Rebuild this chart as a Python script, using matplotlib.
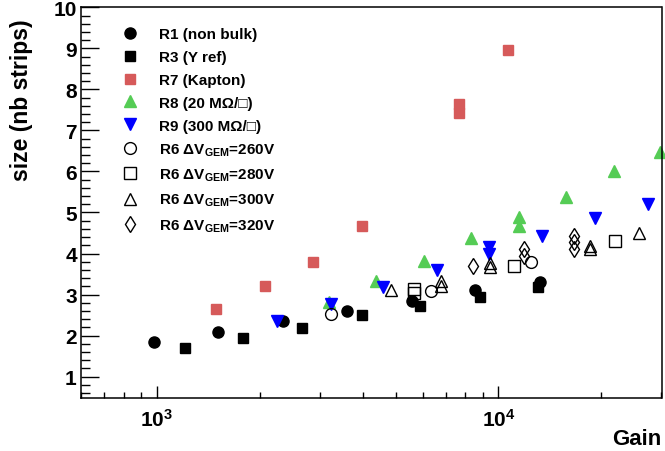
import matplotlib
matplotlib.use('Agg')
import matplotlib.pyplot as plt
from matplotlib.ticker import LogLocator, NullFormatter, FixedLocator, FixedFormatter, MultipleLocator

# ---------------- data ----------------
r1_gain = [982, 1509, 2338, 3614, 5579, 8546, 13250]
r1_size = [1.84, 2.10, 2.36, 2.61, 2.85, 3.11, 3.31]

r3_gain = [1208, 1793, 2668, 3981, 5900, 8800, 13010]
r3_size = [1.70, 1.93, 2.18, 2.50, 2.71, 2.95, 3.18]

r7_gain = [1491, 2075, 2873, 3990, 7687, 7687, 10654]
r7_size = [2.65, 3.22, 3.79, 4.66, 7.64, 7.42, 8.96]

r8_gain = [3201, 4385, 6040, 8318, 11460, 11460, 15790, 21720, 29750]
r8_size = [2.81, 3.34, 3.81, 4.38, 4.88, 4.66, 5.37, 6.02, 6.47]

r9_gain = [2245, 3237, 4606, 6595, 9393, 9393, 13450, 19190, 27380]
r9_size = [2.36, 2.77, 3.18, 3.60, 4.15, 3.99, 4.43, 4.86, 5.21]

r6_260_gain = [3237, 6353, 12440]
r6_260_size = [2.53, 3.08, 3.79]

r6_280_gain = [5666, 5666, 11140, 21960]
r6_280_size = [3.14, 3.04, 3.70, 4.31]

r6_300_gain = [4852, 6784, 6784, 9456, 9456, 18470, 18470, 25700]
r6_300_size = [3.12, 3.33, 3.21, 3.77, 3.67, 4.18, 4.11, 4.50]

r6_320_gain = [8450, 11840, 11840, 16690, 16690, 16690]
r6_320_size = [3.70, 4.12, 3.94, 4.43, 4.27, 4.11]

labels = ["R1 (non bulk)", "R3 (Y ref)", "R7 (Kapton)",
          "R8 (20 M\u03a9/\u25a1)", "R9 (300 M\u03a9/\u25a1)",
          r"R6 $\Delta$V$_{\mathrm{GEM}}$=260V", r"R6 $\Delta$V$_{\mathrm{GEM}}$=280V",
          r"R6 $\Delta$V$_{\mathrm{GEM}}$=300V", r"R6 $\Delta$V$_{\mathrm{GEM}}$=320V"]

xlim = (600, 30000)
ylim = (0.48, 10)

# ---------------- style ----------------
plt.rcParams['font.family'] = ['Liberation Sans', 'DejaVu Sans']
plt.rcParams['font.weight'] = 'bold'
plt.rcParams['mathtext.fontset'] = 'custom'
plt.rcParams['mathtext.rm'] = 'Liberation Sans:bold'
plt.rcParams['mathtext.it'] = 'Liberation Sans:bold'
plt.rcParams['mathtext.bf'] = 'Liberation Sans:bold'
plt.rcParams['mathtext.sf'] = 'Liberation Sans:bold'

RED = '#d65a5a'
GREEN = '#55cc55'
BLUE = '#0000ff'

fig = plt.figure(figsize=(6.65, 4.52), dpi=100)
ax = fig.add_axes([81 / 665, 1 - 399 / 452, 580.5 / 665, 390.7 / 452])

common = dict(linestyle='none', clip_on=False)
ax.plot(r1_gain, r1_size, marker='o', ms=8, color='black', mec='black', label=labels[0], **common)
ax.plot(r3_gain, r3_size, marker='s', ms=7.5, color='black', mec='black', label=labels[1], **common)
ax.plot(r7_gain, r7_size, marker='s', ms=7.5, color=RED, mec=RED, label=labels[2], **common)
ax.plot(r8_gain, r8_size, marker='^', ms=8.5, color=GREEN, mec=GREEN, label=labels[3], **common)
ax.plot(r9_gain, r9_size, marker='v', ms=8.5, color=BLUE, mec=BLUE, label=labels[4], **common)
ax.plot(r6_260_gain, r6_260_size, marker='o', ms=8.5, mfc='none', mec='black', mew=1.0, label=labels[5], **common)
ax.plot(r6_280_gain, r6_280_size, marker='s', ms=8, mfc='none', mec='black', mew=1.0, label=labels[6], **common)
ax.plot(r6_300_gain, r6_300_size, marker='^', ms=8.5, mfc='none', mec='black', mew=1.0, label=labels[7], **common)
ax.plot(r6_320_gain, r6_320_size, marker='d', ms=8, mfc='none', mec='black', mew=1.0, label=labels[8], **common)

ax.set_xscale('log')
ax.set_xlim(*xlim)
ax.set_ylim(*ylim)

ax.xaxis.set_major_locator(FixedLocator([1e3, 1e4]))
ax.xaxis.set_major_formatter(FixedFormatter([r'$\mathbf{10^{3}}$', r'$\mathbf{10^{4}}$']))
ax.xaxis.set_minor_locator(LogLocator(base=10, subs=range(2, 10), numticks=20))
ax.xaxis.set_minor_formatter(NullFormatter())

ax.yaxis.set_major_locator(MultipleLocator(1))
ax.yaxis.set_minor_locator(MultipleLocator(0.2))

ax.tick_params(axis='both', which='both', direction='in', top=False, right=False, colors='black')
ax.tick_params(axis='x', which='major', length=8.4, width=1.0, pad=7, labelsize=15)
ax.tick_params(axis='x', which='minor', length=4.2, width=1.0)
ax.tick_params(axis='y', which='major', length=13, width=1.0, pad=3, labelsize=15)
ax.tick_params(axis='y', which='minor', length=6.5, width=1.0)
for lab in ax.get_yticklabels():
    lab.set_fontweight('bold')

for sp in ax.spines.values():
    sp.set_linewidth(1.1)

fig.text(22 / 665, 1 - 19 / 452, 'size (nb strips)', rotation=90, ha='center', va='top',
         fontsize=16.5, fontweight='bold')
fig.text(661 / 665, 1 - 445 / 452, 'Gain', ha='right', va='baseline', fontsize=16, fontweight='bold')

leg = ax.legend(loc='upper left', bbox_to_anchor=(122.4 / 665, 1 - 28.2 / 452),
                bbox_transform=fig.transFigure, frameon=False, fontsize=11,
                handlelength=1.0, handletextpad=1.4, labelspacing=0.58,
                borderpad=0, borderaxespad=0, numpoints=1)

fig.savefig('out.png', dpi=100)
